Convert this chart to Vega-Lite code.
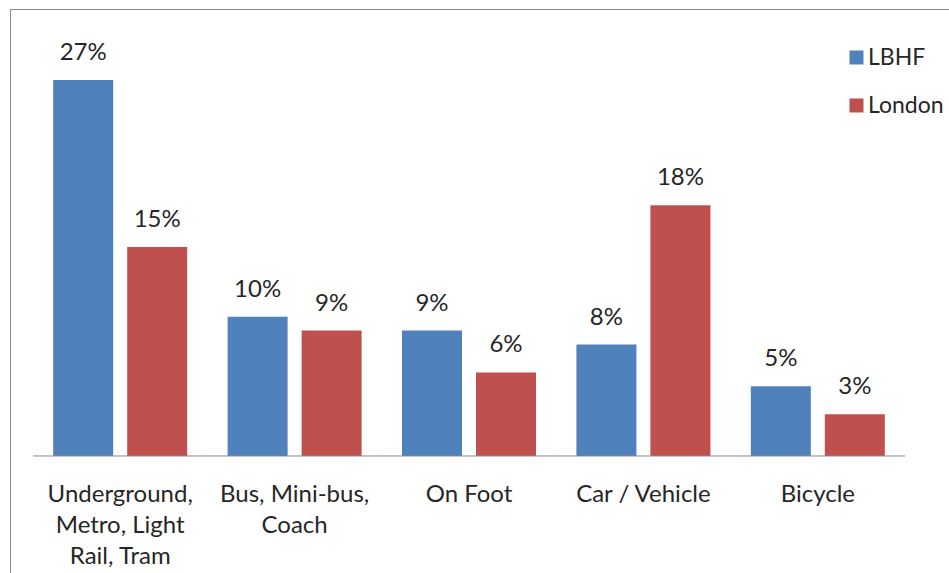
{
  "$schema": "https://vega.github.io/schema/vega-lite/v6.json",
  "width": 950,
  "height": 580,
  "autosize": {"type": "none"},
  "padding": {"left": 10, "top": 9, "right": 0, "bottom": 0},
  "background": "white",
  "config": {"view": {"stroke": "#8a8a8a", "strokeWidth": 1}, "font": "Lato"},
  "data": {
    "values": [
      {"mode": "Underground, Metro, Light Rail, Tram", "series": "LBHF", "value": 0.27},
      {"mode": "Underground, Metro, Light Rail, Tram", "series": "London", "value": 0.15},
      {"mode": "Bus, Mini-bus, Coach", "series": "LBHF", "value": 0.10},
      {"mode": "Bus, Mini-bus, Coach", "series": "London", "value": 0.09},
      {"mode": "On Foot", "series": "LBHF", "value": 0.09},
      {"mode": "On Foot", "series": "London", "value": 0.06},
      {"mode": "Car / Vehicle", "series": "LBHF", "value": 0.08},
      {"mode": "Car / Vehicle", "series": "London", "value": 0.18},
      {"mode": "Bicycle", "series": "LBHF", "value": 0.05},
      {"mode": "Bicycle", "series": "London", "value": 0.03}
    ]
  },
  "encoding": {
    "x": {
      "field": "mode",
      "type": "nominal",
      "sort": ["Underground, Metro, Light Rail, Tram", "Bus, Mini-bus, Coach", "On Foot", "Car / Vehicle", "Bicycle"],
      "scale": {"paddingInner": 0, "paddingOuter": 0.2236, "align": 0.295},
      "axis": {
        "title": null,
        "orient": "bottom",
        "offset": -133,
        "domain": false,
        "ticks": false,
        "tickSize": 0,
        "labelPadding": 26,
        "labelAngle": 0,
        "labelFont": "Lato",
        "labelFontSize": 24,
        "labelColor": "#262626",
        "labelLineHeight": 31,
        "labelLimit": 0,
        "labelExpr": "datum.label == 'Underground, Metro, Light Rail, Tram' ? ['Underground,', 'Metro, Light', 'Rail, Tram'] : datum.label == 'Bus, Mini-bus, Coach' ? ['Bus, Mini-bus,', 'Coach'] : datum.label"
      }
    },
    "y": {
      "field": "value",
      "type": "quantitative",
      "scale": {"domain": [-0.0955, 0.3209], "nice": false, "zero": false},
      "axis": null
    }
  },
  "layer": [
    {
      "mark": {"type": "bar"},
      "encoding": {
        "xOffset": {"field": "series", "type": "nominal", "sort": ["LBHF", "London"], "scale": {"paddingInner": 0.189, "paddingOuter": 0.273}},
        "y2": {"datum": 0},
        "color": {
          "field": "series",
          "type": "nominal",
          "scale": {"domain": ["LBHF", "London"], "range": ["#4F81BD", "#C0504D"]},
          "legend": {
            "title": null,
            "orient": "none",
            "legendX": 835,
            "legendY": 37,
            "symbolType": "square",
            "symbolSize": 196,
            "symbolStrokeWidth": 0,
            "labelFont": "Lato",
            "labelFontSize": 23,
            "labelColor": "#262626",
            "labelOffset": 0,
            "rowPadding": 24,
            "padding": 0,
            "labelLimit": 0
          }
        }
      }
    },
    {
      "mark": {"type": "text", "dy": -20, "baseline": "alphabetic", "fontSize": 24, "font": "Lato", "color": "#262626"},
      "encoding": {
        "xOffset": {"field": "series", "type": "nominal", "sort": ["LBHF", "London"], "scale": {"paddingInner": 0.189, "paddingOuter": 0.273}},
        "text": {"field": "value", "type": "quantitative", "format": ".0%"}
      }
    },
    {
      "transform": [{"filter": "datum.series == 'LBHF'"}],
      "mark": {"type": "rule", "color": "#8a8a8a", "strokeWidth": 1},
      "encoding": {
        "x": {"field": "mode", "type": "nominal", "bandPosition": 0, "sort": ["Underground, Metro, Light Rail, Tram", "Bus, Mini-bus, Coach", "On Foot", "Car / Vehicle", "Bicycle"]},
        "x2": {"field": "mode", "bandPosition": 1},
        "y": {"datum": 0}
      }
    }
  ]
}
